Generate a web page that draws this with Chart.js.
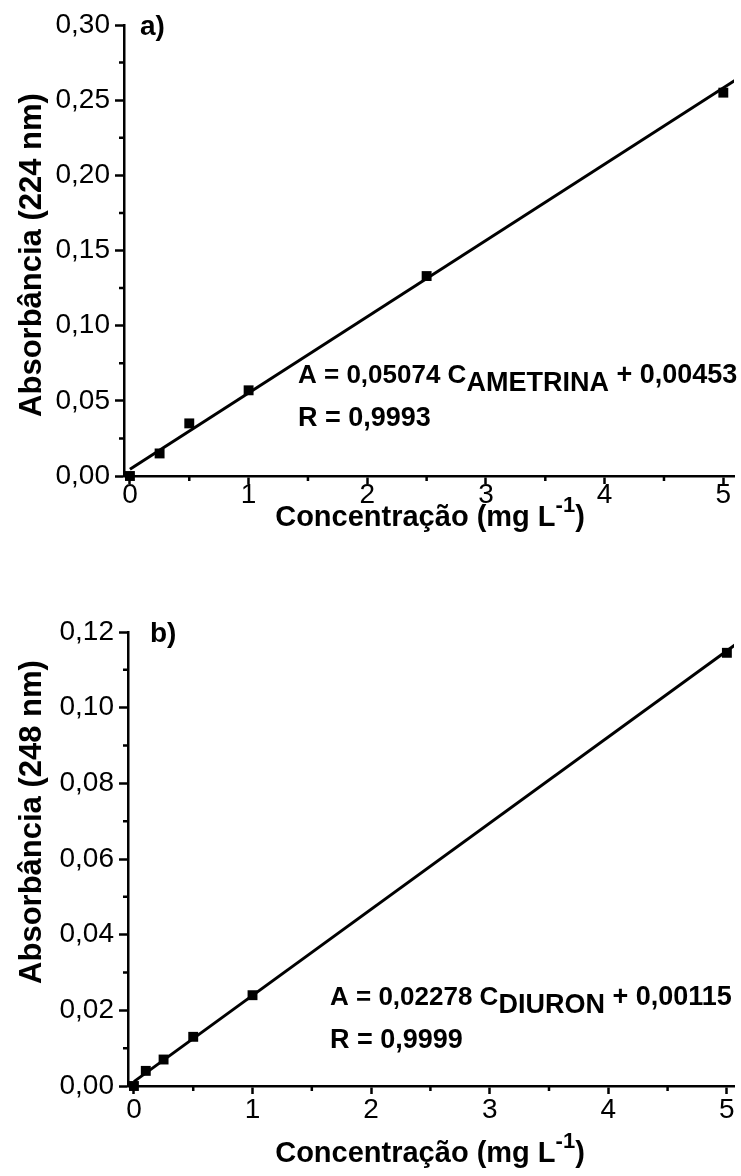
<!DOCTYPE html>
<html>
<head>
<meta charset="utf-8">
<script src="https://cdn.jsdelivr.net/npm/chart.js@4.4.1/dist/chart.umd.min.js"></script>
<style>
  html, body { margin: 0; padding: 0; background: #fff; }
  .panel { position: absolute; left: 0; width: 741px; }
  #panelA { top: 0; height: 590px; }
  #panelB { top: 590px; height: 586px; }
</style>
</head>
<body>
<div class="panel" id="panelA"><canvas id="chartA"></canvas></div>
<div class="panel" id="panelB"><canvas id="chartB"></canvas></div>
<script>
// a) ametrina, 224 nm
const concA = [0, 0.25, 0.5, 1, 2.5, 5];
const absA = [0.000, 0.015, 0.035, 0.057, 0.133, 0.255];
const slopeA = 0.05074;
const interceptA = 0.00453;
const rA = '0,9993';
const yTicksA = [0, 0.05, 0.10, 0.15, 0.20, 0.25, 0.30];
const yMinorA = [0.025, 0.075, 0.125, 0.175, 0.225, 0.275];

// b) diuron, 248 nm
const concB = [0, 0.1, 0.25, 0.5, 1, 5];
const absB = [0.000, 0.004, 0.007, 0.013, 0.024, 0.1145];
const slopeB = 0.02278;
const interceptB = 0.00115;
const rB = '0,9999';
const yTicksB = [0, 0.02, 0.04, 0.06, 0.08, 0.10, 0.12];
const yMinorB = [0.01, 0.03, 0.05, 0.07, 0.09, 0.11];

// shared x axis
const xTicks = [0, 1, 2, 3, 4, 5];
const xMinor = [0.5, 1.5, 2.5, 3.5, 4.5];
const fitRange = [0, 5.3];

const FONT = "'Liberation Sans', Arial, sans-serif";
Chart.defaults.font.family = FONT;
Chart.defaults.color = '#000';

const comma = (v, d) => v.toFixed(d).replace('.', ',');

// text runs with sub/superscripts: [text, size, dy]
function drawRuns(ctx, runs, x, y) {
  runs.forEach(([t, size, dy]) => {
    ctx.font = `bold ${size}px ${FONT}`;
    ctx.fillText(t, x, y + (dy || 0));
    x += ctx.measureText(t).width;
  });
}
function runsWidth(ctx, runs) {
  let w = 0;
  runs.forEach(([t, size]) => { ctx.font = `bold ${size}px ${FONT}`; w += ctx.measureText(t).width; });
  return w;
}

const extras = {
  id: 'extras',
  afterDraw(chart, args, o) {
    const { ctx, chartArea: ca, scales: { x, y } } = chart;
    ctx.save();
    ctx.strokeStyle = '#000';
    ctx.lineWidth = 2.5;
    ctx.beginPath();
    xMinor.forEach(v => {
      const px = x.getPixelForValue(v);
      ctx.moveTo(px, ca.bottom); ctx.lineTo(px, ca.bottom + 5);
    });
    o.yMinor.forEach(v => {
      const py = y.getPixelForValue(v);
      ctx.moveTo(ca.left, py); ctx.lineTo(ca.left - 5, py);
    });
    ctx.stroke();

    ctx.fillStyle = '#000';
    ctx.textBaseline = 'alphabetic';
    // panel letter
    drawRuns(ctx, [[o.letter, 28]], ca.left + o.letterDx, ca.top + 10);

    // equation and correlation
    drawRuns(ctx, [['A = ' + o.eq[0] + ' C', 26], [o.eq[1], 27, 8], [' + ' + o.eq[2], 27]], o.eqX, o.eqY);
    drawRuns(ctx, [['R = ' + o.r, 27]], o.eqX, o.eqY + 43);

    // x axis title
    const xt = [['Concentração (mg L', 29], ['-1', 22, -14], [')', 29]];
    drawRuns(ctx, xt, o.xTitleCx - runsWidth(ctx, xt) / 2, o.xTitleY);

    // y axis title
    ctx.translate(41, o.yTitleCy);
    ctx.rotate(-Math.PI / 2);
    ctx.textAlign = 'center';
    ctx.font = `bold 31px ${FONT}`;
    ctx.fillText(o.yTitle, 0, 0);
    ctx.restore();
  }
};

function makeChart(id, conc, abs, slope, intercept, yTicks, yRange, xRange, box, opts) {
  const fit = fitRange.map(c => ({ x: c, y: slope * c + intercept }));
  return new Chart(document.getElementById(id), {
    type: 'scatter',
    data: {
      datasets: [
        {
          data: conc.map((c, i) => ({ x: c, y: abs[i] })),
          pointStyle: 'rect',
          pointRadius: 7,
          backgroundColor: '#000',
          borderColor: '#000',
          borderWidth: 0,
          clip: false
        },
        {
          type: 'line',
          data: fit,
          borderColor: '#000',
          borderWidth: 3,
          pointRadius: 0,
          fill: false
        }
      ]
    },
    options: {
      responsive: true,
      maintainAspectRatio: false,
      animation: false,
      events: [],
      layout: { padding: { top: box.top, right: 0, left: 0, bottom: 0 } },
      plugins: { legend: { display: false }, tooltip: { enabled: false }, extras: opts },
      scales: {
        x: {
          type: 'linear',
          min: xRange[0], max: xRange[1],
          afterFit: s => { s.height = box.xh; s.paddingLeft = 0; s.paddingRight = 0; },
          afterBuildTicks: s => { s.ticks = xTicks.map(v => ({ value: v })); },
          ticks: { font: { size: 28 }, padding: box.xPad, maxRotation: 0, callback: v => String(v) },
          grid: { drawOnChartArea: false, drawTicks: true, tickLength: 8, tickColor: '#000', tickWidth: 2.5 },
          border: { color: '#000', width: 2.5 }
        },
        y: {
          type: 'linear',
          min: yRange[0], max: yRange[1],
          afterFit: s => { s.width = box.yw; },
          afterBuildTicks: s => { s.ticks = yTicks.map(v => ({ value: v })); },
          ticks: { font: { size: 28 }, padding: 5, callback: v => comma(v, 2) },
          grid: { drawOnChartArea: false, drawTicks: true, tickLength: 9, tickColor: '#000', tickWidth: 2.5 },
          border: { color: '#000', width: 2.5 }
        }
      }
    },
    plugins: [extras]
  });
}

makeChart('chartA', concA, absA, slopeA, interceptA, yTicksA, [0, 0.30], [-0.05, 5.09],
  { top: 25, xh: 114, yw: 124, xPad: -6 },
  { letter: 'a)', letterDx: 16, yMinor: yMinorA, eq: ['0,05074', 'AMETRINA', '0,00453'], r: rA,
    eqX: 298, eqY: 383, xTitleCx: 430, xTitleY: 526, yTitle: 'Absorbância (224 nm)', yTitleCy: 255 });

makeChart('chartB', concB, absB, slopeB, interceptB, yTicksB, [0, 0.12], [-0.05, 5.06],
  { top: 42, xh: 90, yw: 128, xPad: -1 },
  { letter: 'b)', letterDx: 22, yMinor: yMinorB, eq: ['0,02278', 'DIURON', '0,00115'], r: rB,
    eqX: 330, eqY: 415, xTitleCx: 430, xTitleY: 572, yTitle: 'Absorbância (248 nm)', yTitleCy: 232 });
</script>
</body>
</html>
